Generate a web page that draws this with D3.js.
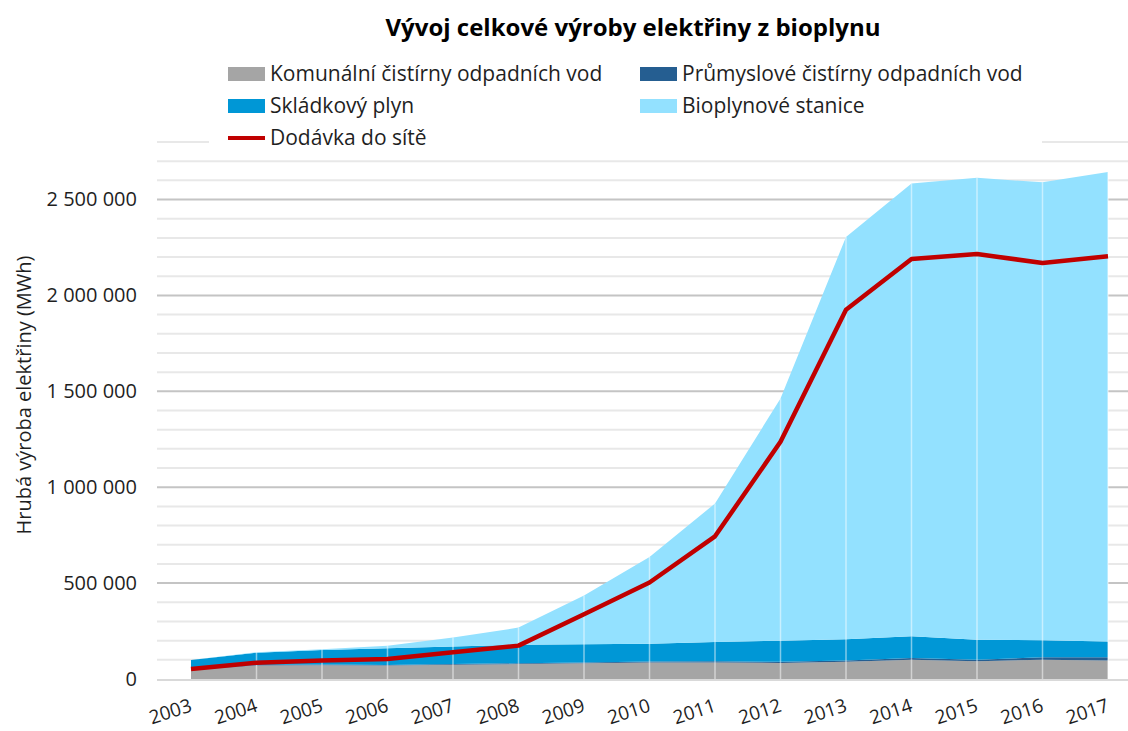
<!DOCTYPE html>
<html>
<head>
<meta charset="utf-8">
<script src="https://cdn.jsdelivr.net/npm/d3@7"></script>
<style>
  body { margin: 0; background: #fff; }
  svg { font-family: "Open Sans", sans-serif; }
</style>
</head>
<body>
<svg class="graph" width="1128" height="731"></svg>
<script>
// data (MWh)
var years = ["2003","2004","2005","2006","2007","2008","2009","2010","2011","2012","2013","2014","2015","2016","2017"];
var komunalni = [45000,70000,72000,70000,74000,78000,82000,86000,86000,84000,90000,101000,92000,101000,97000];
var prumyslove = [3000,3000,3000,3000,4000,4000,4000,5000,6000,6000,7000,9000,9000,12000,16000];
var skladkovy = [51000,64000,76000,87000,91000,97000,95000,93000,101000,110000,110000,113000,104000,89000,82000];
var bioplynove = [0,3000,4000,14000,47000,89000,254000,452000,722000,1263000,2098000,2361000,2408000,2388000,2448000];
var dodavka = [52000,85000,97000,104000,139000,174000,338000,503000,744000,1237000,1925000,2190000,2216000,2169000,2204000];
var yTicks = [0,500000,1000000,1500000,2000000,2500000];

var keys = ["komunalni","prumyslove","skladkovy","bioplynove"];
var names = {
  komunalni: "Komunální čistírny odpadních vod",
  prumyslove: "Průmyslové čistírny odpadních vod",
  skladkovy: "Skládkový plyn",
  bioplynove: "Bioplynové stanice"
};
var colors = {komunalni: "#a5a5a5", prumyslove: "#255e91", skladkovy: "#0097d6", bioplynove: "#93e1ff"};

var rows = years.map(function(y, i) {
  return {year: y, komunalni: komunalni[i], prumyslove: prumyslove[i], skladkovy: skladkovy[i], bioplynove: bioplynove[i]};
});

var svg = d3.select("svg.graph");
var plot = {left: 157, right: 1128, top: 142, bottom: 679};

var x = d3.scalePoint().domain(years).range([191, 1108]);
var y = d3.scaleLinear().domain([0, 2800000]).range([plot.bottom, plot.top]);

var loc = d3.formatLocale({decimal: ",", thousands: " ", grouping: [3], currency: ["", ""]});
var fmt = loc.format(",d");

// gridlines
svg.append("g").selectAll("line")
  .data(d3.range(100000, 2800001, 100000))
  .enter().append("line")
    .attr("x1", plot.left).attr("x2", plot.right)
    .attr("y1", function(d) { return y(d); })
    .attr("y2", function(d) { return y(d); })
    .attr("stroke", function(d) { return d % 500000 === 0 ? "#c4c4c4" : "#e8e8e8"; })
    .attr("stroke-width", 2);

// stacked areas
var series = d3.stack().keys(keys)(rows);
var area = d3.area()
  .x(function(d) { return x(d.data.year); })
  .y0(function(d) { return y(d[0]); })
  .y1(function(d) { return y(d[1]); });

svg.append("g").selectAll("path")
  .data(series)
  .enter().append("path")
    .attr("d", area)
    .attr("fill", function(d) { return colors[d.key]; });

// light vertical lines inside the filled area
var topSeries = series[series.length - 1];
svg.append("g").selectAll("line")
  .data(topSeries.slice(1))
  .enter().append("line")
    .attr("x1", function(d) { return x(d.data.year); })
    .attr("x2", function(d) { return x(d.data.year); })
    .attr("y1", y(0))
    .attr("y2", function(d) { return y(d[1]); })
    .attr("stroke", "#ffffff")
    .attr("stroke-opacity", 0.5)
    .attr("stroke-width", 1.5);

// baseline
svg.append("line")
  .attr("x1", plot.left).attr("x2", plot.right)
  .attr("y1", y(0) + 1).attr("y2", y(0) + 1)
  .attr("stroke", "#d9d9d9").attr("stroke-width", 2);

// delivery to grid
var line = d3.line()
  .x(function(d, i) { return x(years[i]); })
  .y(function(d) { return y(d); });

svg.append("path")
  .datum(dodavka)
  .attr("d", line)
  .attr("fill", "none")
  .attr("stroke", "#c00000")
  .attr("stroke-width", 4.5)
  .attr("stroke-linejoin", "round");

// y axis
var yAxis = svg.append("g")
  .attr("transform", "translate(" + (plot.left - 20) + ",0)")
  .call(d3.axisLeft(y).tickValues(yTicks).tickFormat(fmt).tickSize(0).tickPadding(0));
yAxis.select(".domain").remove();
yAxis.selectAll("text")
  .attr("font-size", 20)
  .attr("fill", "#1f1f1f")
  .attr("font-family", "'Open Sans', sans-serif");

svg.append("text")
  .attr("transform", "translate(31,395) rotate(-90)")
  .attr("text-anchor", "middle")
  .attr("font-size", 20)
  .attr("fill", "#1f1f1f")
  .text("Hrubá výroba elektřiny (MWh)");

// x axis labels
svg.append("g").selectAll("text")
  .data(years)
  .enter().append("text")
    .attr("transform", function(d) { return "translate(" + (x(d) + 2) + ",711) rotate(-18)"; })
    .attr("text-anchor", "end")
    .attr("font-size", 19)
    .attr("fill", "#1f1f1f")
    .text(function(d) { return d; });

// title
svg.append("text")
  .attr("x", 633).attr("y", 36)
  .attr("text-anchor", "middle")
  .attr("font-size", 24)
  .attr("font-weight", "bold")
  .attr("fill", "#000")
  .text("Vývoj celkové výroby elektřiny z bioplynu");

// legend
var legend = svg.append("g");
legend.append("rect")
  .attr("x", 209).attr("y", 56).attr("width", 833).attr("height", 96)
  .attr("fill", "#fff");

var items = [
  {key: "komunalni", col: 0, row: 0},
  {key: "prumyslove", col: 1, row: 0},
  {key: "skladkovy", col: 0, row: 1},
  {key: "bioplynove", col: 1, row: 1},
  {key: "dodavka", col: 0, row: 2}
];
var colX = [228, 640], rowY = [74, 106, 138];

var li = legend.selectAll("g.item")
  .data(items)
  .enter().append("g")
    .attr("class", "item")
    .attr("transform", function(d) { return "translate(" + colX[d.col] + "," + rowY[d.row] + ")"; });

li.filter(function(d) { return d.key !== "dodavka"; })
  .append("rect")
    .attr("x", 0).attr("y", -7).attr("width", 37).attr("height", 14)
    .attr("fill", function(d) { return colors[d.key]; });

li.filter(function(d) { return d.key === "dodavka"; })
  .append("line")
    .attr("x1", 0).attr("x2", 37).attr("y1", 0).attr("y2", 0)
    .attr("stroke", "#c00000").attr("stroke-width", 4);

li.append("text")
  .attr("x", 42).attr("dy", "0.35em")
  .attr("font-size", 21)
  .attr("fill", "#1f1f1f")
  .text(function(d) { return d.key === "dodavka" ? "Dodávka do sítě" : names[d.key]; });
</script>
</body>
</html>
